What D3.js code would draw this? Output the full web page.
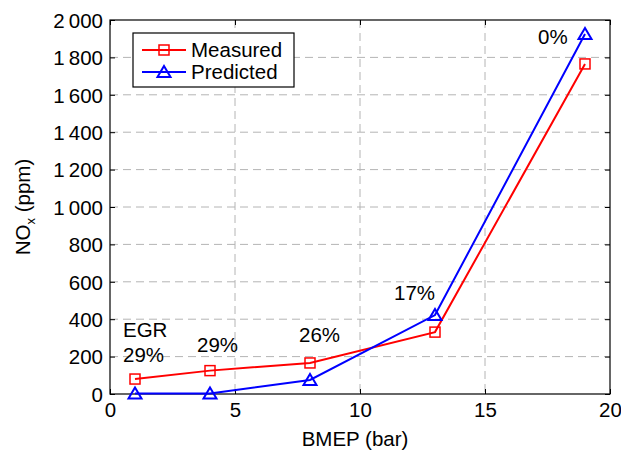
<!DOCTYPE html>
<html>
<head>
<meta charset="utf-8">
<script src="https://cdn.jsdelivr.net/npm/d3@7"></script>
<style>
  body { margin: 0; background: #fff; }
  svg text { font-family: "Liberation Sans", Arial, sans-serif; fill: #000; }
</style>
</head>
<body>
<div id="chart"></div>
<script>
// data
const bmep = [1, 4, 8, 13, 19];
const measured = [80, 125, 166, 331, 1765];
const predicted = [3, 3, 75, 422, 1925];
const egrLabels = ["29%", "29%", "26%", "17%", "0%"];
const xTicks = [0, 5, 10, 15, 20];
const yTicks = [0, 200, 400, 600, 800, 1000, 1200, 1400, 1600, 1800, 2000];

const W = 621, H = 450;
const FS = "20.5px";
const margin = { top: 20, right: 11, bottom: 56, left: 110 },
      width = W - margin.left - margin.right,
      height = H - margin.top - margin.bottom;

const svg = d3.select("#chart").append("svg")
  .attr("width", W).attr("height", H);
const g = svg.append("g")
  .attr("transform", `translate(${margin.left},${margin.top})`);

const x = d3.scaleLinear().domain([0, 20]).range([0, width]);
const y = d3.scaleLinear().domain([0, 2000]).range([height, 0]);

const fmt = v => v >= 1000 ? String(Math.floor(v / 1000)) + "\u2009" + String(v % 1000).padStart(3, "0") : String(v);

// grid
g.selectAll("line.gx").data(xTicks.slice(1, -1)).enter().append("line")
  .attr("x1", d => x(d)).attr("x2", d => x(d))
  .attr("y1", 0).attr("y2", height)
  .attr("stroke", "#b4b4b4").attr("stroke-dasharray", "8,5");
g.selectAll("line.gy").data(yTicks.slice(1, -1)).enter().append("line")
  .attr("x1", 0).attr("x2", width)
  .attr("y1", d => y(d)).attr("y2", d => y(d))
  .attr("stroke", "#b4b4b4").attr("stroke-dasharray", "8,5");

// axes with inward ticks
const styleAxis = sel => {
  sel.selectAll("path.domain").remove();
  sel.selectAll(".tick line").attr("stroke", "#000");
  sel.selectAll("text").style("font-size", FS).attr("fill", "#000");
};
g.append("g").attr("transform", `translate(0,${height})`)
  .call(d3.axisBottom(x).tickValues(xTicks).tickSizeInner(-5).tickSizeOuter(0).tickPadding(8))
  .call(styleAxis);
g.append("g")
  .call(d3.axisLeft(y).tickValues(yTicks).tickFormat(fmt).tickSizeInner(-5).tickSizeOuter(0).tickPadding(7))
  .call(styleAxis)
  .selectAll("text").attr("dy", "0.36em");
g.append("g")
  .call(d3.axisTop(x).tickValues(xTicks).tickSizeInner(-5).tickSizeOuter(0).tickFormat(""))
  .call(styleAxis);
g.append("g").attr("transform", `translate(${width},0)`)
  .call(d3.axisRight(y).tickValues(yTicks).tickSizeInner(-5).tickSizeOuter(0).tickFormat(""))
  .call(styleAxis);

g.append("rect").attr("width", width).attr("height", height)
  .attr("fill", "none").attr("stroke", "#000").attr("stroke-width", 1.2);

// series
const series = [
  { name: "Measured", values: measured, color: "#ff0000", shape: "square" },
  { name: "Predicted", values: predicted, color: "#0000ff", shape: "triangle" }
];

const line = d3.line().x(d => x(d[0])).y(d => y(d[1]));

function marker(sel, shape, color) {
  if (shape === "square") {
    sel.append("rect").attr("x", -5).attr("y", -5).attr("width", 10).attr("height", 10)
      .attr("fill", "none").attr("stroke", color).attr("stroke-width", 1.5);
  } else {
    sel.append("path").attr("d", "M0,-6L6.5,5L-6.5,5Z")
      .attr("fill", "none").attr("stroke", color).attr("stroke-width", 2);
  }
}

series.forEach(s => {
  const pts = bmep.map((b, i) => [b, s.values[i]]);
  g.append("path").datum(pts).attr("d", line)
    .attr("fill", "none").attr("stroke", s.color).attr("stroke-width", 2);
  pts.forEach(p => {
    g.append("g").attr("transform", `translate(${x(p[0])},${y(p[1])})`)
      .call(marker, s.shape, s.color);
  });
});

// EGR annotations
const lblPos = [
  { dx: -12, y: 362 }, { dx: -13, y: 352 }, { dx: -11, y: 342 }, { dx: -41, y: 300 }, { dx: -47, y: 44 }
];
g.append("text").attr("x", x(bmep[0]) - 12).attr("y", 337 - margin.top)
  .style("font-size", FS).text("EGR");
egrLabels.forEach((t, i) => {
  g.append("text").attr("x", x(bmep[i]) + lblPos[i].dx).attr("y", lblPos[i].y - margin.top)
    .style("font-size", FS).text(t);
});

// legend
const lg = svg.append("g").attr("transform", "translate(133,33)");
lg.append("rect").attr("width", 161).attr("height", 54)
  .attr("fill", "#fff").attr("stroke", "#000").attr("stroke-width", 1.2);
series.forEach((s, i) => {
  const row = lg.append("g").attr("transform", `translate(0,${17 + i * 22})`);
  row.append("line").attr("x1", 9).attr("x2", 53).attr("stroke", s.color).attr("stroke-width", 2);
  row.append("g").attr("transform", "translate(31,0)").call(marker, s.shape, s.color);
  row.append("text").attr("x", 58).attr("y", 0).attr("dy", "0.36em")
    .style("font-size", FS).text(s.name);
});

// axis titles
svg.append("text").attr("x", margin.left + width / 2 - 5).attr("y", 446)
  .attr("text-anchor", "middle").style("font-size", FS).text("BMEP (bar)");
const yl = svg.append("text")
  .attr("transform", `translate(30,${margin.top + height / 2}) rotate(-90)`)
  .attr("text-anchor", "middle").style("font-size", FS);
yl.append("tspan").text("NO");
yl.append("tspan").attr("dy", 5).style("font-size", "13px").text("x");
yl.append("tspan").attr("dy", -5).text(" (ppm)");
</script>
</body>
</html>
